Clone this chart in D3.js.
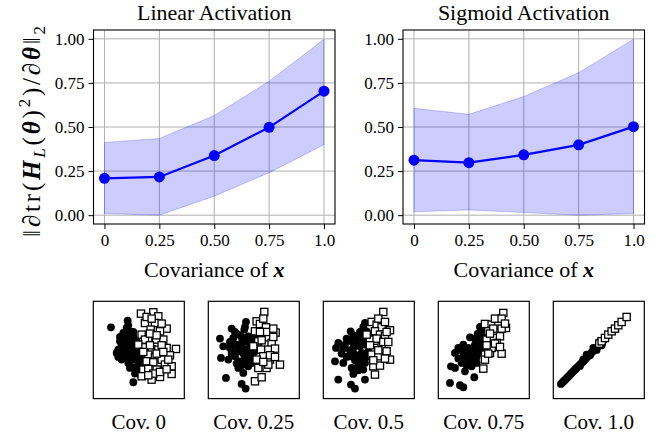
<!DOCTYPE html>
<html><head><meta charset="utf-8">
<script src="https://cdn.jsdelivr.net/npm/d3@7"></script>
<style>
html,body{margin:0;padding:0;background:#fff;}
svg{display:block;}
text{font-family:"Liberation Serif","Times New Roman",serif;fill:#000;}
</style></head>
<body>
<svg id="chart" width="667" height="441"></svg>
<script>
// ---------- data ----------
const covariance = [0, 0.25, 0.5, 0.75, 1.0];
const xTickLabels = ["0", "0.25", "0.50", "0.75", "1.0"];
const yTicks = [0, 0.25, 0.5, 0.75, 1.0];
const yTickLabels = ["0.00", "0.25", "0.50", "0.75", "1.00"];

const linearMean  = [0.209, 0.217, 0.338, 0.498, 0.703];
const linearUpper = [0.412, 0.435, 0.565, 0.760, 0.997];
const linearLower = [0.010, 0.000, 0.108, 0.241, 0.400];

const sigmoidMean  = [0.312, 0.298, 0.342, 0.399, 0.502];
const sigmoidUpper = [0.606, 0.572, 0.673, 0.808, 0.998];
const sigmoidLower = [0.019, 0.030, 0.015, 0.000, 0.010];

const panelTitles = ["Linear Activation", "Sigmoid Activation"];
const scatterLabels = ["Cov. 0", "Cov. 0.25", "Cov. 0.5", "Cov. 0.75", "Cov. 1.0"];

// scatter samples (class A = filled circles, class B = open squares)
const scatterA = [
  [[53,214],[103,234],[100,212],[90,197],[110,202],[80,172],[95,177],[120,187],[75,147],[70,137],[90,152],[110,162],[130,172],[100,132],[85,117],[115,137],[130,142],[105,107],[120,117],[135,102],[110,92],[130,87],[140,72],[120,49],[95,192],[115,177],[140,152],[125,122],[145,117],[90,127],
   [80,185],[100,180],[120,200],[105,220],[85,160],[100,145],[120,150],[135,130],[105,120],[115,95],[125,75],[95,165],[110,185],[130,160],[75,125],[140,95],[100,160],[88,140]],
  [[70,210],[113,230],[35,180],[45,157],[75,182],[90,192],[108,207],[120,187],[85,162],[100,167],[130,172],[38,122],[60,117],[75,137],[90,142],[110,147],[125,152],[95,112],[110,122],[130,127],[90,92],[120,97],[130,107],[53,62],[100,44],[112,30],[105,77],[140,142],[65,152],[80,127],
   [80,200],[100,185],[115,170],[95,150],[80,160],[65,170],[105,135],[120,140],[135,160],[100,100],[115,110],[85,105],[70,135],[125,115],[110,215],[140,185]],
  [[82,202],[125,227],[45,167],[38,152],[65,162],[85,172],[100,182],[115,192],[130,202],[90,152],[110,157],[125,162],[35,112],[60,107],[80,127],[95,132],[115,137],[85,92],[105,102],[125,107],[120,87],[90,74],[45,57],[83,42],[95,30],[125,57],[135,142],[140,177],
   [70,180],[90,190],[110,200],[120,175],[100,165],[80,145],[95,115],[110,120],[130,125],[70,125],[55,135],[105,85],[135,190],[120,215],[60,150],[140,160]],
  [[95,184],[118,194],[60,152],[50,137],[75,162],[90,152],[110,162],[128,172],[140,182],[38,97],[50,92],[70,107],[85,122],[100,132],[120,137],[80,82],[100,97],[108,64],[65,40],[75,34],[35,47],[130,152],[140,157],[115,107],[95,112],
   [85,145],[100,145],[120,150],[110,180],[125,185],[130,200],[75,130],[90,135],[105,120],[60,120],[85,100],[115,125],[135,170],[125,215],[70,145],[145,195]],
  [[23,44],[27,48],[31,52],[35,56],[39,60],[43,64],[47,68],[51,73],[55,77],[59,81],[63,85],[67,89],[71,93],[75,97],[79,101],[83,105],[87,109],[91,113],[95,117],[99,122],[103,126],[107,130],[111,134],[115,138],[119,142],[123,146],[127,150],[131,154],[135,158],[139,162],[143,166],[147,170],[151,175],
   [100,132],[110,130],[120,152],[130,146],[140,172],[145,160],[90,118],[80,98]]
];
const scatterB = [
  [[143,255],[180,259],[195,247],[155,227],[185,227],[220,210],[172,207],[200,202],[145,192],[165,177],[188,177],[210,177],[150,154],[175,147],[195,147],[220,152],[248,149],[165,132],[185,124],[160,112],[180,109],[205,117],[215,102],[235,97],[150,87],[165,89],[190,87],[235,74],[145,67],[175,57],[200,65],[155,177],[135,162],
   [170,195],[190,190],[205,160],[230,130],[170,160],[190,135],[210,140],[225,117],[180,75],[200,80],[220,88],[165,70],[160,245],[205,225],[150,140],[175,240]],
  [[168,260],[145,232],[155,224],[173,214],[202,198],[140,202],[160,192],[180,182],[150,172],[170,162],[190,167],[158,147],[180,147],[165,127],[185,117],[215,102],[150,92],[175,92],[140,52],[160,64],[180,102],[135,157],[145,117],
   [165,240],[175,200],[195,185],[200,150],[160,175],[185,130],[165,110],[155,200],[195,210],[200,125]],
  [[180,260],[145,230],[160,222],[175,214],[200,205],[155,202],[170,192],[185,187],[140,177],[155,152],[175,157],[145,132],[165,127],[200,117],[150,97],[170,99],[155,72],[190,142],[130,192],
   [165,240],[185,230],[190,200],[160,180],[180,170],[165,145],[185,120],[150,115],[195,170],[140,160]],
  [[195,257],[140,224],[160,222],[180,222],[203,212],[150,202],[175,197],[165,182],[185,187],[150,157],[175,167],[155,137],[190,135],[140,117],[135,90],[160,152],[145,177],
   [170,240],[190,240],[165,210],[190,210],[170,165],[155,195],[185,155],[150,135],[200,225],[145,160]],
  [[138,165],[145,172],[155,182],[165,192],[175,202],[185,210],[195,220],[205,230],[220,245]]
];

// ---------- drawing ----------
const svg = d3.select("#chart");
svg.append("rect").attr("width",667).attr("height",441).attr("fill","#fff");
const serif = '"Liberation Serif","Times New Roman",serif';

const plotTop = 30, plotBottom = 224;
const panels = [
  {x0: 93.5, x1: 335, mean: linearMean, up: linearUpper, lo: linearLower, title: panelTitles[0]},
  {x0: 403, x1: 644.5, mean: sigmoidMean, up: sigmoidUpper, lo: sigmoidLower, title: panelTitles[1]}
];

panels.forEach((p, pi) => {
  const x = d3.scaleLinear().domain([-0.05, 1.05]).range([p.x0, p.x1]);
  const y = d3.scaleLinear().domain([-0.05, 1.05]).range([plotBottom, plotTop]);
  const g = svg.append("g");

  // grid
  g.append("g").selectAll("line").data(covariance).join("line")
    .attr("x1", d => x(d)).attr("x2", d => x(d)).attr("y1", plotTop).attr("y2", plotBottom)
    .attr("stroke", "#b0b0b0").attr("stroke-width", 1);
  g.append("g").selectAll("line").data(yTicks).join("line")
    .attr("y1", d => y(d)).attr("y2", d => y(d)).attr("x1", p.x0).attr("x2", p.x1)
    .attr("stroke", "#b0b0b0").attr("stroke-width", 1);

  // band
  const band = covariance.map((c, i) => ({c, lo: p.lo[i], up: p.up[i], m: p.mean[i]}));
  g.append("path").datum(band)
    .attr("d", d3.area().x(d => x(d.c)).y0(d => y(d.lo)).y1(d => y(d.up)))
    .attr("fill", "blue").attr("fill-opacity", 0.2)
    .attr("stroke", "blue").attr("stroke-opacity", 0.2).attr("stroke-width", 1);

  // line + markers
  g.append("path").datum(band)
    .attr("d", d3.line().x(d => x(d.c)).y(d => y(d.m)))
    .attr("fill", "none").attr("stroke", "#0000ff").attr("stroke-width", 2.2);
  g.append("g").selectAll("circle").data(band).join("circle")
    .attr("cx", d => x(d.c)).attr("cy", d => y(d.m)).attr("r", 5.5).attr("fill", "#0000ff");

  // axes
  const xAxis = d3.axisBottom(x).tickValues(covariance).tickFormat((d, i) => xTickLabels[i]).tickSize(5).tickPadding(5);
  const yAxis = d3.axisLeft(y).tickValues(yTicks).tickFormat((d, i) => yTickLabels[i]).tickSize(5).tickPadding(4);
  const gx = g.append("g").attr("transform", `translate(0,${plotBottom})`).call(xAxis);
  const gy = g.append("g").attr("transform", `translate(${p.x0},0)`).call(yAxis);
  [gx, gy].forEach(a => {
    a.attr("font-family", serif).attr("font-size", 17);
    a.select(".domain").remove();
    a.selectAll("line").attr("stroke", "#000").attr("stroke-width", 1);
    a.selectAll("text").style("font-family", serif).style("font-size", "17px").attr("fill", "#000");
  });

  // frame
  g.append("rect").attr("x", p.x0).attr("y", plotTop).attr("width", p.x1 - p.x0).attr("height", plotBottom - plotTop)
    .attr("fill", "none").attr("stroke", "#000").attr("stroke-width", 1.1);

  // title
  g.append("text").attr("x", (p.x0 + p.x1) / 2).attr("y", 20).attr("text-anchor", "middle")
    .style("font-size", "22px").text(p.title);

  // x label
  const xl = g.append("text").attr("x", (p.x0 + p.x1) / 2).attr("y", 277).attr("text-anchor", "middle")
    .style("font-size", "22px");
  xl.append("tspan").text("Covariance of ");
  xl.append("tspan").style("font-style", "italic").style("font-weight", "bold").text("x");
});

// y label
const yl = svg.append("text").attr("transform", "translate(40,130) rotate(-90)")
  .attr("text-anchor", "middle").style("font-size", "25px").style("letter-spacing", "2.8px");
yl.append("tspan").text("\u2016\u2202tr(");
yl.append("tspan").style("font-style", "italic").style("font-weight", "bold").text("H");
yl.append("tspan").style("font-style", "italic").style("font-size", "17px").attr("dy", 5).text("L");
yl.append("tspan").attr("dy", -5).text("(");
yl.append("tspan").style("font-style", "italic").style("font-weight", "bold").text("\u03B8");
yl.append("tspan").text(")");
yl.append("tspan").style("font-size", "17px").attr("dy", -10).text("2");
yl.append("tspan").attr("dy", 10).text(")/\u2202");
yl.append("tspan").style("font-style", "italic").style("font-weight", "bold").text("\u03B8");
yl.append("tspan").text("\u2016");
yl.append("tspan").style("font-size", "17px").attr("dy", 5).text("2");

// scatter panels
const sLeft = [93.3, 208.3, 323.3, 438.3, 553.3];
const sW = 91, sTop = 301.3, sH = 97.3;
sLeft.forEach((lx, k) => {
  const sx = d3.scaleLinear().domain([0, 273]).range([lx, lx + sW]);
  const sy = d3.scaleLinear().domain([0, 292]).range([sTop + sH, sTop]);
  const g = svg.append("g");
  g.append("rect").attr("x", lx).attr("y", sTop).attr("width", sW).attr("height", sH)
    .attr("fill", "#fff").attr("stroke", "#000").attr("stroke-width", 1.2);
  g.append("g").selectAll("circle").data(scatterA[k]).join("circle")
    .attr("cx", d => sx(d[0])).attr("cy", d => sy(d[1])).attr("r", 3.9).attr("fill", "#000");
  const s = 7.2;
  g.append("g").selectAll("rect").data(scatterB[k]).join("rect")
    .attr("x", d => sx(d[0]) - s / 2).attr("y", d => sy(d[1]) - s / 2).attr("width", s).attr("height", s)
    .attr("fill", "#fff").attr("stroke", "#000").attr("stroke-width", 1.3);
  g.append("text").attr("x", lx + sW / 2).attr("y", 429).attr("text-anchor", "middle")
    .style("font-size", "21px").text(scatterLabels[k]);
});
</script>
</body></html>
